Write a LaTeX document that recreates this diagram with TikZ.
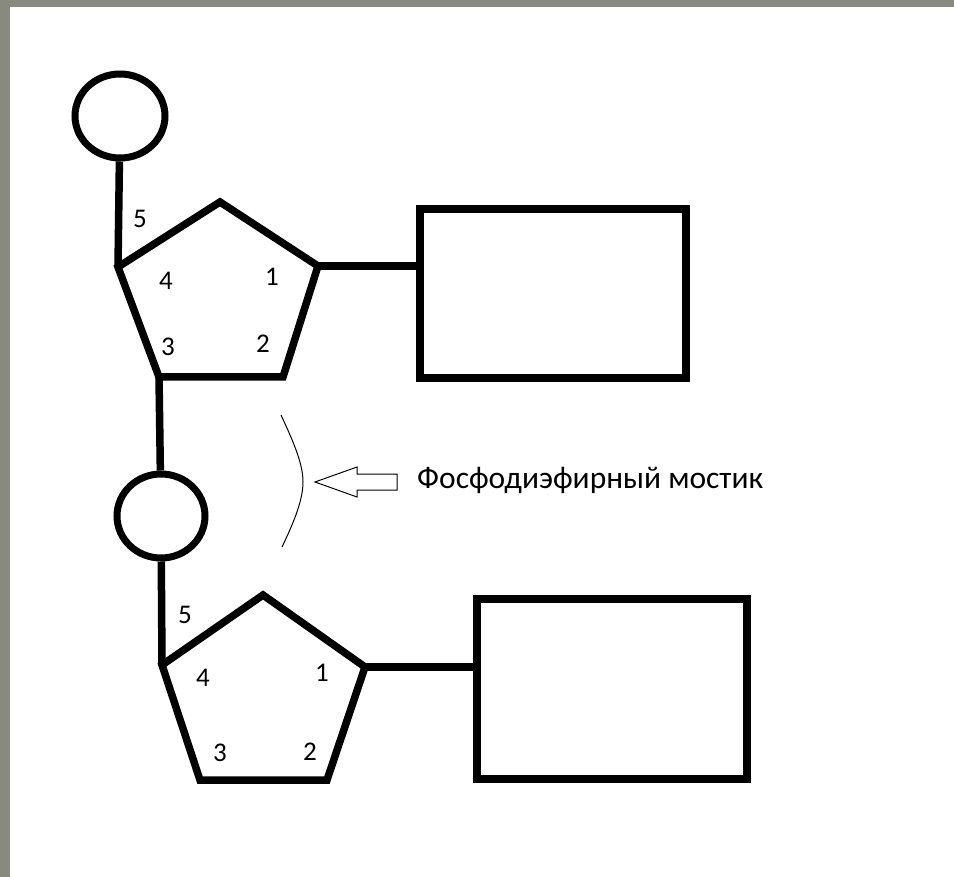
\documentclass[tikz,border=0pt]{standalone}
\usepackage{fontspec}
\setmainfont{Carlito}
\usetikzlibrary{positioning,shapes.geometric}
\definecolor{slidegrey}{RGB}{135,138,124}
\tikzset{
  bond/.style={line width=7.5pt},
  phosphate/.style={draw,ellipse,line width=7pt,inner sep=0pt},
  nbase/.style={draw,rectangle,line width=7.5pt,inner sep=0pt},
  atomnum/.style={inner sep=0pt,font=\fontsize{27}{30}\selectfont},
}
\begin{document}
\begin{tikzpicture}[x=1pt,y=-1pt]
  \fill[slidegrey] (0,0) rectangle (954,877);
  \fill[white] (10,7) rectangle (954,877);
  \useasboundingbox (0,0) rectangle (954,877);

  % upper nucleotide
  \node[phosphate,minimum width=90pt,minimum height=84pt] (phos_a) at (120,116) {};
  \coordinate (c4_a) at (118,267);
  \coordinate (o4_a) at (220,202);
  \coordinate (c1_a) at (318,266);
  \coordinate (c2_a) at (283,377);
  \coordinate (c3_a) at (159,377);
  \node[nbase,minimum width=266pt,minimum height=169pt] (base_a) at (553,293.5) {};
  \draw[bond] (phos_a) -- (c4_a);
  \draw[bond] (c4_a) -- (o4_a) -- (c1_a) -- (c2_a) -- (c3_a) -- cycle;
  \draw[bond] (c1_a) -- (c1_a -| base_a.west);
  \node[atomnum] (n5_a) at (140,219) {5};
  \node[atomnum] (n4_a) at (166,281) {4};
  \node[atomnum] (n1_a) at (272,277) {1};
  \node[atomnum] (n3_a) at (168,347) {3};
  \node[atomnum] (n2_a) at (263,344) {2};

  % lower nucleotide
  \node[phosphate,minimum width=88pt,minimum height=84pt] (phos_b) at (161,516) {};
  \coordinate (c4_b) at (162,665);
  \coordinate (o4_b) at (263,595);
  \coordinate (c1_b) at (365,667);
  \coordinate (c2_b) at (327,780);
  \coordinate (c3_b) at (200,780);
  \node[nbase,minimum width=270pt,minimum height=180pt] (base_b) at (612,689) {};
  \draw[bond] (c3_a) -- (phos_b);
  \draw[bond] (phos_b) -- (c4_b);
  \draw[bond] (c4_b) -- (o4_b) -- (c1_b) -- (c2_b) -- (c3_b) -- cycle;
  \draw[bond] (c1_b) -- (c1_b -| base_b.west);
  \node[atomnum] (n5_b) at (185,615) {5};
  \node[atomnum] (n4_b) at (203,678) {4};
  \node[atomnum] (n1_b) at (322,673) {1};
  \node[atomnum] (n3_b) at (220,753) {3};
  \node[atomnum] (n2_b) at (310,752) {2};

  % bridge marker
  \coordinate (brace_top) at (281,415);
  \coordinate (brace_mid) at (303,482);
  \coordinate (brace_bot) at (282,547);
  \draw[line width=1pt] (brace_top) .. controls (295,445) and (303,465) .. (brace_mid)
    .. controls (303,499) and (295,520) .. (brace_bot);
  \coordinate (tip) at (315,482);
  \draw[line width=1pt] (tip) -- ++(42,-15) -- ++(0,7) -- ++(40,0) -- ++(0,16)
    -- ++(-40,0) -- ++(0,7) -- cycle;
  \node[anchor=base west,inner sep=0pt,font=\fontsize{31.5}{36}\selectfont]
    (bridge_label) at (417,488) {Фосфодиэфирный мостик};
\end{tikzpicture}
\end{document}
